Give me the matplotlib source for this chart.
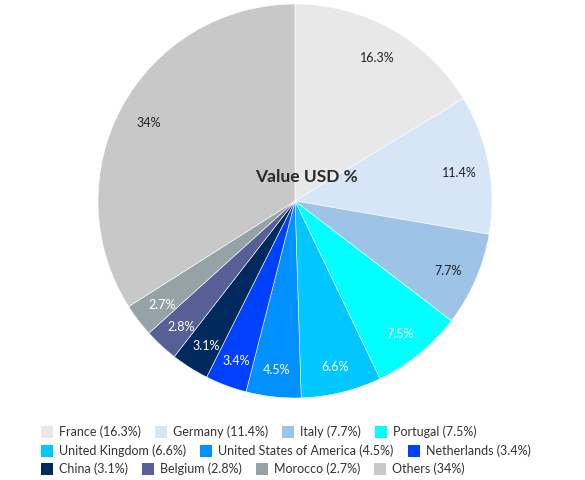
import matplotlib
matplotlib.use("Agg")
import matplotlib.pyplot as plt
from matplotlib.patches import Rectangle

countries = ["France", "Germany", "Italy", "Portugal", "United Kingdom",
             "United States of America", "Netherlands", "China", "Belgium",
             "Morocco", "Others"]
values = [16.3, 11.4, 7.7, 7.5, 6.6, 4.5, 3.4, 3.1, 2.8, 2.7, 34]
value_labels = ["16.3%", "11.4%", "7.7%", "7.5%", "6.6%", "4.5%", "3.4%",
                "3.1%", "2.8%", "2.7%", "34%"]
colors = ["#e8e8e8", "#d6e6f6", "#9dc3e6", "#00ffff", "#00c8ff", "#0090ff",
          "#0040ff", "#002a5e", "#565f96", "#95a3a6", "#c8c8c8"]
label_colors = ["#222222", "#222222", "#222222", "#ffffff", "#ffffff", "#ffffff",
                "#ffffff", "#ffffff", "#ffffff", "#ffffff", "#222222"]
legend_rows = [4, 3, 4]
title = "Value USD %"

plt.rcParams['font.family'] = ['Lato', 'DejaVu Sans']

W, H = 585, 480
fig = plt.figure(figsize=(W / 100, H / 100), dpi=100)
cx, cy, r = 295, 201, 197
ax = fig.add_axes([(cx - r) / W, (H - cy - r) / H, 2 * r / W, 2 * r / H])

counter = iter(range(len(values)))
def fmt(p):
    return value_labels[next(counter)]

wedges, texts, autotexts = ax.pie(values, colors=colors, startangle=90,
                                  counterclock=False, radius=1,
                                  autopct=fmt, pctdistance=0.85,
                                  wedgeprops=dict(edgecolor='white', linewidth=0.4),
                                  textprops=dict(fontsize=9))
for t, c in zip(autotexts, label_colors):
    t.set_color(c)
    x0, y0 = t.get_position()
    t.set_position((x0, y0 - 3.0 / r))
ax.set_xlim(-1, 1)
ax.set_ylim(-1, 1)
ax.set_aspect('equal')
ax.axis('off')

ax.text(0.06, 0.12, title, ha='center', va='center', fontsize=12.5,
        fontweight='bold', color='#2a2a2a')

# Legend (flow layout)
renderer = fig.canvas.get_renderer()
row_y = [432, 451, 469]
idx = 0
for ri, n in enumerate(legend_rows):
    x = 41
    y = row_y[ri]
    for k in range(n):
        i = idx
        fig.patches.append(Rectangle((x / W, (H - y - 6) / H), 12 / W, 12 / H,
                                     transform=fig.transFigure, facecolor=colors[i],
                                     edgecolor='none'))
        t = fig.text((x + 18) / W, (H - y) / H, f"{countries[i]} ({value_labels[i]})",
                     ha='left', va='center', fontsize=9, color='#333333')
        bb = t.get_window_extent(renderer)
        x = bb.x1 + 14
        idx += 1

fig.savefig("out.png", dpi=100, facecolor='white')
